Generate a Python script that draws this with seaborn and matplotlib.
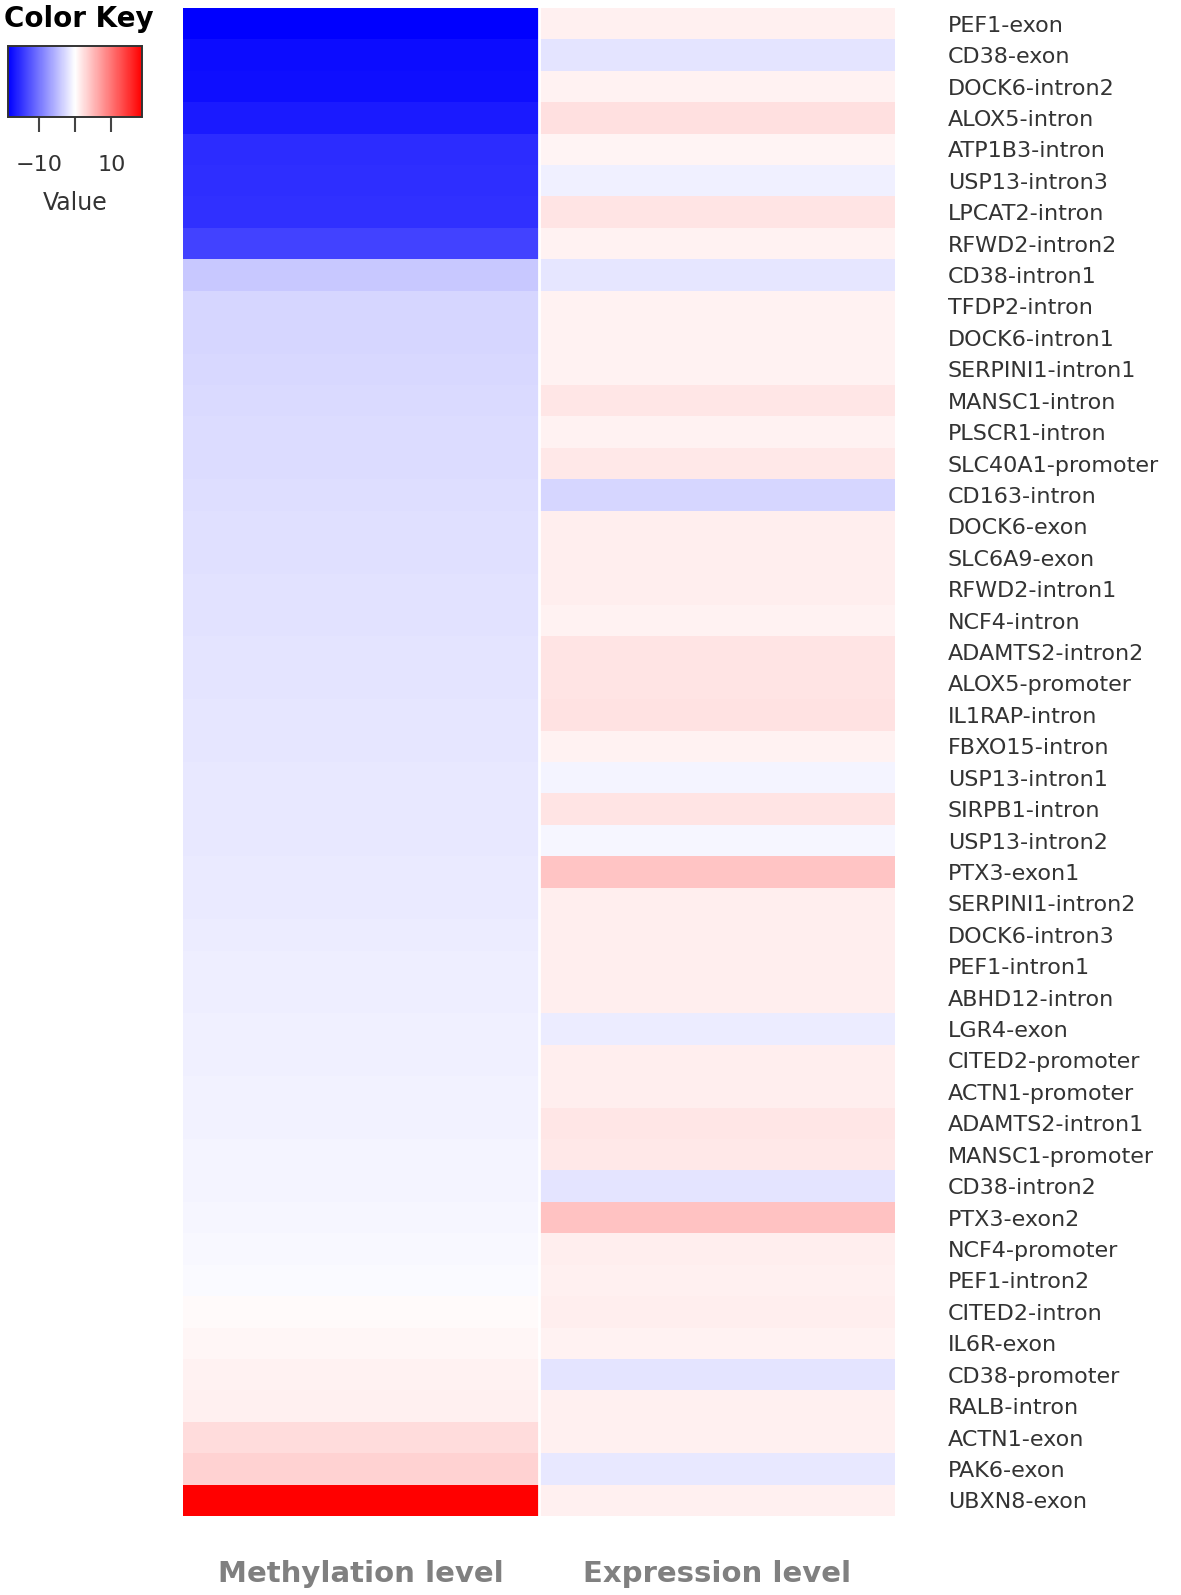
import numpy as np
import pandas as pd
import seaborn as sns
import matplotlib.pyplot as plt
from matplotlib.colors import LinearSegmentedColormap

# 데이터
genes = ['PEF1-exon', 'CD38-exon', 'DOCK6-intron2', 'ALOX5-intron', 'ATP1B3-intron',
         'USP13-intron3', 'LPCAT2-intron', 'RFWD2-intron2', 'CD38-intron1', 'TFDP2-intron',
         'DOCK6-intron1', 'SERPINI1-intron1', 'MANSC1-intron', 'PLSCR1-intron',
         'SLC40A1-promoter', 'CD163-intron', 'DOCK6-exon', 'SLC6A9-exon', 'RFWD2-intron1',
         'NCF4-intron', 'ADAMTS2-intron2', 'ALOX5-promoter', 'IL1RAP-intron', 'FBXO15-intron',
         'USP13-intron1', 'SIRPB1-intron', 'USP13-intron2', 'PTX3-exon1', 'SERPINI1-intron2',
         'DOCK6-intron3', 'PEF1-intron1', 'ABHD12-intron', 'LGR4-exon', 'CITED2-promoter',
         'ACTN1-promoter', 'ADAMTS2-intron1', 'MANSC1-promoter', 'CD38-intron2', 'PTX3-exon2',
         'NCF4-promoter', 'PEF1-intron2', 'CITED2-intron', 'IL6R-exon', 'CD38-promoter',
         'RALB-intron', 'ACTN1-exon', 'PAK6-exon', 'UBXN8-exon']

methylation = [-18.5, -17.6, -17.4, -16.5, -15.3, -15.1, -15.0, -13.6, -4.0, -3.0,
               -2.9, -2.8, -2.7, -2.6, -2.5, -2.4, -2.3, -2.2, -2.15, -2.1,
               -2.0, -1.9, -1.85, -1.8, -1.7, -1.65, -1.6, -1.5, -1.45, -1.4,
               -1.3, -1.2, -1.1, -1.05, -1.0, -0.9, -0.85, -0.75, -0.65, -0.55,
               -0.35, 0.3, 0.6, 0.9, 1.1, 2.6, 3.3, 18.5]

expression = [1.1, -1.9, 0.9, 2.2, 0.8, -1.1, 1.9, 1.0, -1.8, 1.0,
              1.0, 1.0, 1.8, 1.0, 1.6, -3.0, 1.2, 1.3, 1.2, 1.0,
              1.9, 2.0, 2.1, 1.0, -0.8, 1.9, -0.6, 4.3, 1.2, 1.3,
              1.2, 1.3, -1.4, 1.3, 1.2, 1.8, 1.7, -2.0, 4.4, 1.2,
              1.1, 1.3, 1.0, -1.9, 1.1, 1.1, -1.6, 1.1]

columns = ['Methylation level', 'Expression level']

df = pd.DataFrame({columns[0]: methylation, columns[1]: expression}, index=genes)

# bluered 컬러맵
bluered = LinearSegmentedColormap.from_list('bluered', ['#0000ff', '#ffffff', '#ff0000'])

fig = plt.figure(figsize=(11.81, 15.95), dpi=100)
ax = fig.add_axes([0.155, 0.0495, 0.603, 0.9455])
cax = fig.add_axes([0.0068, 0.9266, 0.1135, 0.0445])

sns.heatmap(df, cmap=bluered, vmin=-18.5, vmax=18.5, ax=ax, cbar_ax=cax,
            cbar_kws={'orientation': 'horizontal', 'ticks': [-10, 0, 10]})

# 열 사이 흰 선
ax.axvline(1, color='white', lw=2)

# 행 라벨 (오른쪽)
ax.yaxis.tick_right()
ax.set_yticks(np.arange(len(genes)) + 0.5)
ax.set_yticklabels(genes, rotation=0, fontsize=16, color='#333333')
ax.tick_params(axis='y', length=0, pad=38)

# 열 라벨 (아래)
ax.set_xticklabels(columns, rotation=0, fontsize=21, fontweight='bold', color='#808080')
ax.tick_params(axis='x', length=0, pad=32)
ax.set_xlabel('')
ax.set_ylabel('')

# 컬러 키
cax.set_xticklabels(['\u221210', '', '10'], fontsize=16, color='#333333')
cax.tick_params(axis='x', length=11, width=1.5, color='#444444', pad=16)
for s in cax.spines.values():
    s.set_visible(True)
    s.set_color('#333333')
    s.set_linewidth(1.2)
cax.set_title('Color Key', fontsize=20, fontweight='bold', loc='left', x=-0.03, pad=14)
cax.set_xlabel('Value', fontsize=17, color='#333333', labelpad=12)

fig.savefig('out.png', dpi=100)
